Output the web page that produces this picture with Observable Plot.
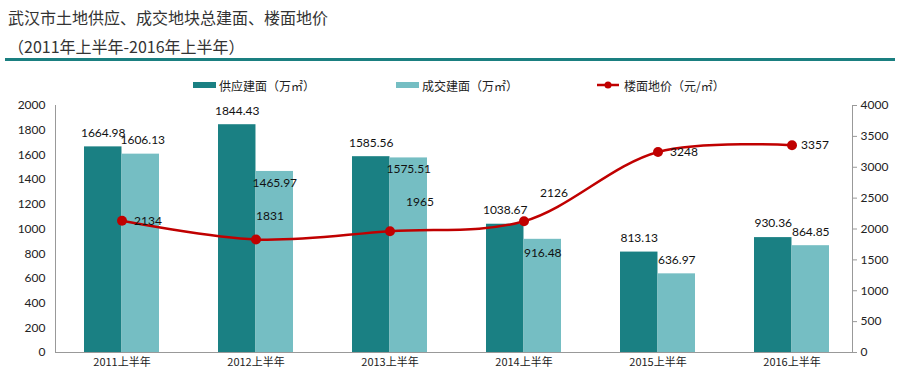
<!DOCTYPE html>
<html>
<head>
<meta charset="utf-8">
<script src="https://cdn.jsdelivr.net/npm/d3@7"></script>
<script src="https://cdn.jsdelivr.net/npm/@observablehq/plot@0.6"></script>
<style>
  body { margin: 0; background: #fff; font-family: Lato, "Noto Sans CJK SC", sans-serif; }
  #wrap { position: relative; width: 900px; height: 376px; overflow: hidden; }
  #title { position: absolute; left: 8px; top: 3px; font-family: "Noto Sans CJK SC", sans-serif; font-size: 16px; line-height: 29px; color: #333; }
  #rule { position: absolute; left: 5px; top: 58px; width: 890px; height: 3px; background: #1a7f80; }
  #legend { position: absolute; top: 76px; left: 0; width: 900px; height: 18px; font-family: "Noto Sans CJK SC", sans-serif; font-size: 12px; color: #222; }
  .li { position: absolute; top: 0; display: flex; align-items: center; height: 18px; }
  .sw { width: 23px; height: 6px; margin-right: 3px; }
  #chart { position: absolute; left: 0; top: 0; }
</style>
</head>
<body>
<div id="wrap">
  <div id="chart"></div>
  <div id="title">武汉市土地供应、成交地块总建面、楼面地价<br>（2011年上半年-2016年上半年）</div>
  <div id="rule"></div>
  <div id="legend"></div>
</div>
<script>
// ---- data ----
const categories = ["2011上半年", "2012上半年", "2013上半年", "2014上半年", "2015上半年", "2016上半年"];
const supplyArea = [1664.98, 1844.43, 1585.56, 1038.67, 813.13, 930.36];   // 供应建面（万㎡）
const dealArea   = [1606.13, 1465.97, 1575.51, 916.48, 636.97, 864.85];    // 成交建面（万㎡）
const floorPrice = [2134, 1831, 1965, 2126, 3248, 3357];                   // 楼面地价（元/㎡）
const leftTicks  = [0, 200, 400, 600, 800, 1000, 1200, 1400, 1600, 1800, 2000];
const rightTicks = [0, 500, 1000, 1500, 2000, 2500, 3000, 3500, 4000];
const seriesNames = ["供应建面（万㎡）", "成交建面（万㎡）", "楼面地价（元/㎡）"];

// ---- layout / style constants (not data) ----
const colors = ["#1a8083", "#75bec3", "#c00000"];
const lightLabelDy = [-14, 12, 11, 14, -14, -14];
const lineLabelDx = [26, 14, 30, 30, 26, 23];
const lineLabelDy = [0, -23, -29, -28, 0, 0];

const rows = categories.map((c, i) => ({
  cat: c, supply: supplyArea[i], deal: dealArea[i], price: floorPrice[i], i
}));

const W = 900, H = 376;
const xRange = [83, 830.5];
const pad = 0.442;
const step = (xRange[1] - xRange[0]) / (categories.length - pad);
const bw = step * (1 - pad);
const half = bw / 2;

const font = "Lato, 'Noto Sans CJK SC', sans-serif";
const labelStyle = { fontSize: 12, fill: "#111" };

const lightLabelMarks = rows.map(r => Plot.text([r], {
  x: "cat", y: "deal", text: d => d.deal.toFixed(2), dx: half / 2 + (r.i === 0 ? 2 : 0), dy: lightLabelDy[r.i], ...labelStyle
}));
const priceLabelMarks = rows.map(r => Plot.text([r], {
  x: "cat", y: d => d.price / 2, text: d => String(d.price), dx: lineLabelDx[r.i], dy: lineLabelDy[r.i], ...labelStyle
}));

const plot = Plot.plot({
  width: W, height: H,
  marginTop: 105, marginBottom: 24, marginLeft: 55, marginRight: 48,
  style: { fontFamily: font, fontSize: "12px", color: "#222", background: "transparent" },
  x: { domain: categories, range: xRange, paddingInner: pad, paddingOuter: 0, axis: null, label: null },
  y: { domain: [0, 2000], axis: null, label: null },
  marks: [
    Plot.barY(rows, { x: "cat", y: "supply", fill: colors[0], insetRight: half }),
    Plot.barY(rows, { x: "cat", y: "deal", fill: colors[1], insetLeft: half }),
    Plot.frame({ anchor: "left", stroke: "#999" }),
    Plot.frame({ anchor: "right", stroke: "#999" }),
    Plot.frame({ anchor: "bottom", stroke: "#999" }),
    Plot.axisY(leftTicks, { anchor: "left", label: null, tickSize: 0, tickPadding: 10, fontSize: 12, fill: "#222", tickFormat: d => String(d) }),
    Plot.axisY(rightTicks.map(d => d / 2), { anchor: "right", label: null, tickSize: 4, tickPadding: 4, stroke: "#999", fontSize: 12, fill: "#222", tickFormat: d => String(d * 2) }),
    Plot.axisX(categories, { anchor: "bottom", label: null, tickSize: 0, tickPadding: 6, fontSize: 11, fill: "#222", fontFamily: "'Noto Sans CJK SC', sans-serif" }),
    Plot.line(rows, { x: "cat", y: d => d.price / 2, stroke: colors[2], strokeWidth: 2.5, curve: "catmull-rom" }),
    Plot.dot(rows, { x: "cat", y: d => d.price / 2, fill: colors[2], r: 5 }),
    Plot.text(rows, { x: "cat", y: "supply", text: d => d.supply.toFixed(2), dx: -half / 2, dy: -14, ...labelStyle }),
    ...lightLabelMarks,
    ...priceLabelMarks
  ]
});
document.getElementById("chart").appendChild(plot);

// legend
const legend = document.getElementById("legend");
const lx = [193, 396, 597];
seriesNames.forEach((name, i) => {
  const item = document.createElement("div");
  item.className = "li";
  item.style.left = lx[i] + "px";
  if (i < 2) {
    item.innerHTML = `<div class="sw" style="background:${colors[i]}"></div><span>${name}</span>`;
  } else {
    item.innerHTML = `<svg width="24" height="10" style="margin-right:3px"><line x1="0" x2="22" y1="5" y2="5" stroke="${colors[2]}" stroke-width="2.5"/><circle cx="11" cy="5" r="3.5" fill="${colors[2]}"/></svg><span>${name}</span>`;
  }
  legend.appendChild(item);
});
</script>
</body>
</html>
